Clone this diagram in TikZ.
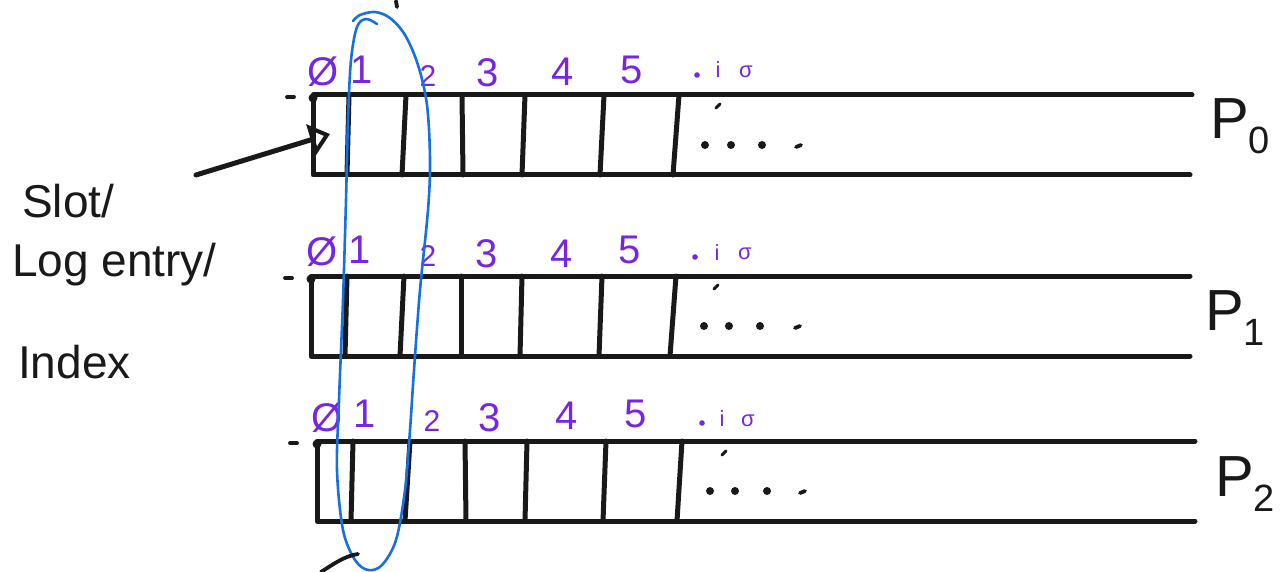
\documentclass[tikz,border=0pt]{standalone}
\usepackage{fontspec}
\setmainfont{Liberation Sans}
\usetikzlibrary{arrows.meta}
\definecolor{idx}{RGB}{118,38,226}
\definecolor{loopc}{RGB}{22,112,226}
\definecolor{inkc}{RGB}{25,25,25}
\begin{document}
\begin{tikzpicture}[x=1pt,y=-1pt,line cap=round,line join=round,
  ink/.style={line width=5pt,draw=inkc},
  thin ink/.style={line width=3.8pt,draw=inkc},
  num/.style={text=idx,font=\fontsize{40}{40}\selectfont,inner sep=0pt},
  smallnum/.style={text=idx,font=\fontsize{30}{30}\selectfont,inner sep=0pt},
  tiny/.style={text=idx,font=\fontsize{22}{22}\selectfont,inner sep=0pt},
  lbltext/.style={text=inkc,font=\fontsize{46}{46}\selectfont,inner sep=0pt,anchor=base west},
  plabel/.style={text=inkc,font=\fontsize{58}{58}\selectfont,inner sep=0pt},
  dotp/.style={fill=inkc}]
\useasboundingbox (0,0) rectangle (1281,572);

% ---------- row P0 ----------
\draw[ink] (1192,95) -- (313,95) -- (313,175) -- (1190,175);
\foreach \a/\b in {349/347,406/402,462/463,525/522,604/600,679/673}
  \draw[ink] (\a,95) -- (\b,175);
\draw[thin ink] (287,97) -- (294,97);
\fill[dotp] (313,98) circle (4.5pt);
\foreach \x in {705,731,762} \fill[dotp] (\x,145) circle (4pt);
\draw[thin ink] (796,147) -- (801,145);
\draw[line width=3pt,draw=inkc] (716,108) -- (720,104);
\node[num] (a0) at (323,72) {Ø};
\node[num] (a1) at (362,70) {1};
\node[smallnum] (a2) at (428,76) {2};
\node[num] (a3) at (488,73) {3};
\node[num] (a4) at (563,72) {4};
\node[num] (a5) at (632,70) {5};
\fill[idx] (697,75) circle (2.8pt);
\node[tiny] (a6) at (718,70) {i};
\node[tiny] (a7) at (746,72) {σ};
\node[plabel] (p0) at (1240,126) {P\raisebox{-0.25em}{\fontsize{38}{38}\selectfont 0}};

% ---------- row P1 ----------
\draw[ink] (1190,276) -- (311,276) -- (311,356) -- (1190,356);
\foreach \a/\b in {347/345,404/400,461/461,522/520,602/599,676/670}
  \draw[ink] (\a,276) -- (\b,356);
\draw[thin ink] (285,278) -- (292,278);
\fill[dotp] (311,279) circle (4.5pt);
\foreach \x in {704,729,760} \fill[dotp] (\x,326) circle (4pt);
\draw[thin ink] (795,328) -- (800,326);
\draw[line width=3pt,draw=inkc] (714,289) -- (718,285);
\node[num] (b0) at (322,252) {Ø};
\node[num] (b1) at (360,250) {1};
\node[smallnum] (b2) at (428,256) {2};
\node[num] (b3) at (487,254) {3};
\node[num] (b4) at (562,254) {4};
\node[num] (b5) at (630,250) {5};
\fill[idx] (695,257) circle (2.8pt);
\node[tiny] (b6) at (717,253) {i};
\node[tiny] (b7) at (745,254) {σ};
\node[plabel] (p1) at (1235,318) {P\raisebox{-0.25em}{\fontsize{38}{38}\selectfont 1}};

% ---------- row P2 ----------
\draw[ink] (1195,441) -- (317,441) -- (317,521) -- (1195,521);
\foreach \a/\b in {353/351,410/405,465/466,527/525,606/603,682/677}
  \draw[ink] (\a,441) -- (\b,521);
\draw[thin ink] (290,443) -- (297,443);
\fill[dotp] (317,444) circle (4.5pt);
\foreach \x in {710,735,767} \fill[dotp] (\x,491) circle (4pt);
\draw[thin ink] (800,493) -- (805,491);
\draw[line width=3pt,draw=inkc] (722,455) -- (726,451);
\node[num] (c0) at (327,418) {Ø};
\node[num] (c1) at (365,414) {1};
\node[smallnum] (c2) at (432,421) {2};
\node[num] (c3) at (490,418) {3};
\node[num] (c4) at (567,416) {4};
\node[num] (c5) at (636,414) {5};
\fill[idx] (702,423) circle (2.8pt);
\node[tiny] (c6) at (722,419) {i};
\node[tiny] (c7) at (748,421) {σ};
\node[plabel] (p2) at (1245,484) {P\raisebox{-0.25em}{\fontsize{38}{38}\selectfont 2}};

% ---------- label and arrow ----------
\node[lbltext] (l1) at (22,217) {Slot/};
\node[lbltext] (l2) at (12,276) {Log entry/};
\node[lbltext] (l3) at (18,378) {Index};
\coordinate (arrstart) at (196,175);
\coordinate (arrtip) at (330,134);
\draw[ink,-{Triangle[open,length=20pt,width=32pt,line width=4pt]}] (arrstart) -- (arrtip);

% ---------- blue loop ----------
\draw[line width=2.6pt,draw=loopc] plot[smooth,tension=0.55] coordinates {
 (377,24) (366,19) (357,27) (351,60) (348,120) (346,200) (343,300) (339,400)
 (337,470) (343,530) (355,560) (368,570) (382,565) (396,540) (405,490)
 (410,430) (414,370) (420,290) (428,210) (430,160) (427,105) (418,65)
 (405,35) (390,18) (375,12) (360,15) (353,21)};

% ---------- stray strokes ----------
\draw[thin ink] (396,1) -- (397,7);
\draw[thin ink] (321,572) .. controls (335,563) and (345,556) .. (358,554);
\end{tikzpicture}
\end{document}
